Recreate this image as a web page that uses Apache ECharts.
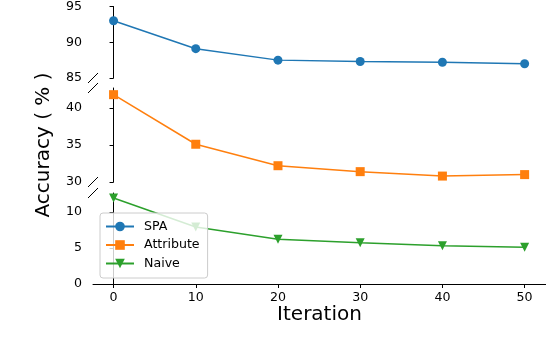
<!DOCTYPE html>
<html>
<head>
<meta charset="utf-8">
<script src="https://cdn.jsdelivr.net/npm/echarts@6/dist/echarts.min.js"></script>
<style>
  html, body { margin: 0; padding: 0; background: #fff; }
  #main { width: 546px; height: 350px; }
</style>
</head>
<body>
<div id="main"></div>
<script>
// data
const iterations = [0, 10, 20, 30, 40, 50];
const spa = [93.0, 89.1, 87.5, 87.3, 87.2, 87.0];
const attribute = [41.8, 35.1, 32.2, 31.4, 30.8, 31.0];
const naive = [11.9, 7.9, 6.2, 5.7, 5.3, 5.1];
const xTicks = [0, 10, 20, 30, 40, 50];
const yTicksTop = [85, 90, 95];
const yTicksMid = [30, 35, 40];
const yTicksBottom = [0, 5, 10];
const seriesNames = ["SPA", "Attribute", "Naive"];

const font = "DejaVu Sans";
const colors = ["#1f77b4", "#ff7f0e", "#2ca02c"];
const symbols = ["circle", "rect", "triangle"];
const rotates = [0, 0, 180];

// three stacked panels (broken y axis)
const panels = [
  { top: 5, height: 73, min: 85, max: 95, ticks: yTicksTop, values: spa },
  { top: 88, height: 94, min: 30, max: 42.7, ticks: yTicksMid, values: attribute },
  { top: 193, height: 91, min: 0, max: 12.6, ticks: yTicksBottom, values: naive },
];
const axisLeft = 93;

const grid = panels.map((p) => ({
  left: axisLeft, right: 0, top: p.top, height: p.height, containLabel: false,
}));

const xAxis = panels.map((p, i) => ({
  type: "value",
  gridIndex: i,
  min: -2.5,
  max: 52.6,
  show: i === 2,
  splitLine: { show: false },
  axisLine: { show: i === 2, lineStyle: { color: "#000", width: 1 } },
  axisTick: { show: i === 2, customValues: xTicks, length: 4, lineStyle: { color: "#000" } },
  axisLabel: {
    show: i === 2, customValues: xTicks, margin: 7,
    color: "#000", fontFamily: font, fontSize: 12.6,
  },
  name: i === 2 ? "Iteration" : "",
  nameLocation: "middle",
  nameGap: 17,
  nameTextStyle: { color: "#000", fontFamily: font, fontSize: 20 },
}));

const yAxis = panels.map((p, i) => ({
  type: "value",
  gridIndex: i,
  min: p.min,
  max: p.max,
  splitLine: { show: false },
  axisLine: { show: true, lineStyle: { color: "#000", width: 1 } },
  axisTick: { show: true, customValues: p.ticks, length: 4, lineStyle: { color: "#000" } },
  axisLabel: {
    customValues: p.ticks, margin: 11,
    color: "#000", fontFamily: font, fontSize: 12.6,
  },
}));

const series = panels.map((p, i) => ({
  name: seriesNames[i],
  type: "line",
  xAxisIndex: i,
  yAxisIndex: i,
  data: iterations.map((x, j) => [x, p.values[j]]),
  symbol: symbols[i],
  symbolRotate: rotates[i],
  symbolSize: 9,
  color: colors[i],
  lineStyle: { width: 1.5, color: colors[i] },
  itemStyle: { color: colors[i] },
  clip: false,
}));

// "//" break marks at the y axis
const breakYs = [];
panels.forEach((p, i) => {
  if (i > 0) breakYs.push(p.top);
  if (i < panels.length - 1) breakYs.push(p.top + p.height);
});
const graphic = breakYs.map((y) => ({
  type: "line",
  shape: { x1: axisLeft - 5, y1: y + 5, x2: axisLeft + 5, y2: y - 5 },
  style: { stroke: "#000", lineWidth: 1 },
  z: 10,
}));
graphic.push({
  type: "text",
  x: 44,
  y: 145,
  rotation: Math.PI / 2,
  style: {
    text: "Accuracy ( % )",
    fontFamily: font,
    fontSize: 20,
    fill: "#000",
    align: "center",
    verticalAlign: "middle",
  },
});

const chart = echarts.init(document.getElementById("main"), null, { renderer: "canvas" });
chart.setOption({
  animation: false,
  backgroundColor: "#fff",
  grid,
  xAxis,
  yAxis,
  series,
  graphic,
  legend: {
    data: seriesNames,
    orient: "vertical",
    left: 100,
    top: 213,
    itemWidth: 28,
    itemHeight: 12,
    itemGap: 5.5,
    padding: [7, 8, 8, 5],
    backgroundColor: "rgba(255,255,255,0.8)",
    borderColor: "#cccccc",
    borderWidth: 1,
    borderRadius: 3,
    textStyle: { color: "#000", fontFamily: font, fontSize: 12.6, padding: [0, 0, 0, 5] },
  },
});
</script>
</body>
</html>
